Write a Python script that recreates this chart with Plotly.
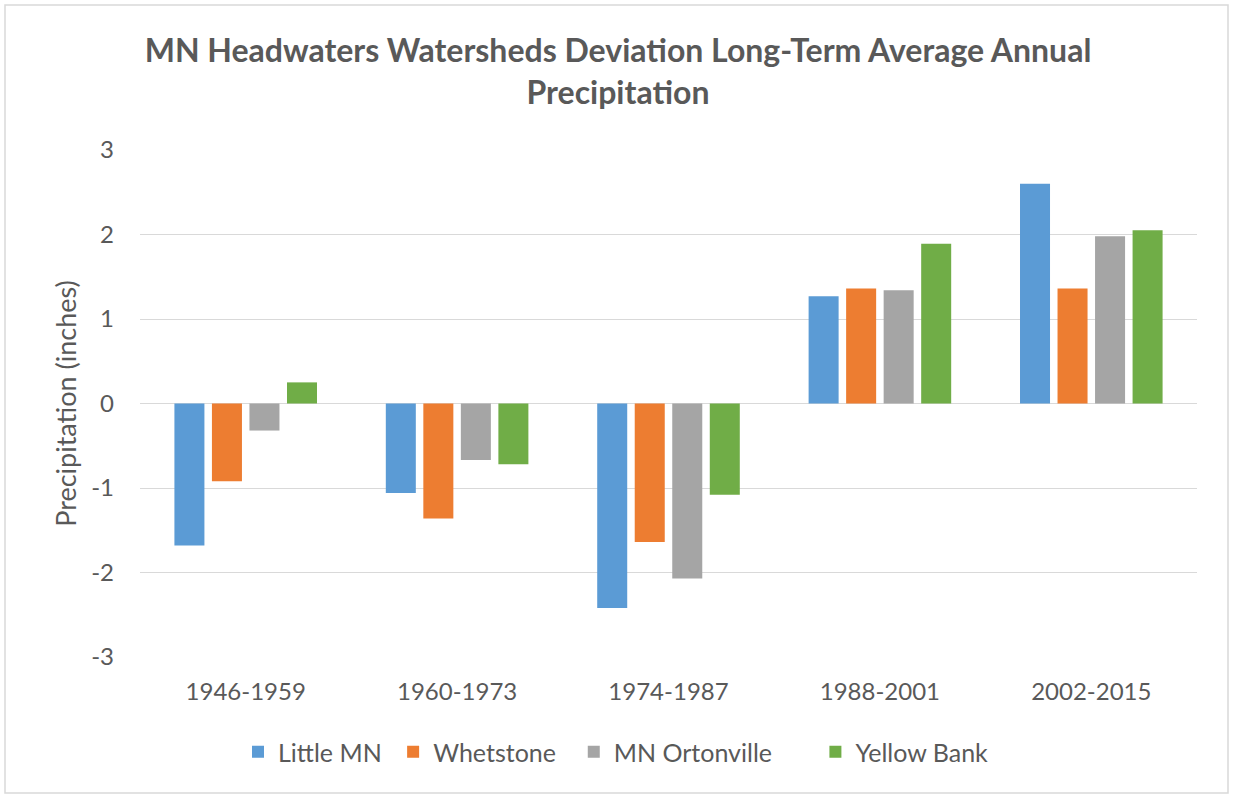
import plotly.graph_objects as go

categories = ["1946-1959", "1960-1973", "1974-1987", "1988-2001", "2002-2015"]
little_mn = [-1.68, -1.06, -2.42, 1.27, 2.60]
whetstone = [-0.92, -1.36, -1.64, 1.36, 1.36]
mn_ortonville = [-0.32, -0.67, -2.07, 1.34, 1.98]
yellow_bank = [0.25, -0.72, -1.08, 1.89, 2.05]
y_ticks = [-3, -2, -1, 0, 1, 2, 3]
y_tick_labels = ["-3", "-2", "-1", "0", "1", "2", "3"]

NB = "\u00a0"
series = [
    ("Little MN", little_mn, "#5B9BD5", 1),
    ("Whetstone", whetstone, "#ED7D31", 2),
    ("MN Ortonville", mn_ortonville, "#A5A5A5", 6),
    ("Yellow Bank", yellow_bank, "#70AD47", 0),
]

FONT = "Lato"
TXT = "#595959"

fig = go.Figure()
for name, vals, col, pad in series:
    fig.add_trace(go.Bar(name=name + NB * pad, x=categories, y=vals,
                         marker_color=col, marker_line_width=0))

W, H = 1233, 798
L, R, T, B = 140, 36, 150, 141
pw, ph = W - L - R, H - T - B

fig.update_layout(
    width=W, height=H,
    margin=dict(l=L, r=R, t=T, b=B),
    paper_bgcolor="white", plot_bgcolor="white",
    barmode="group", bargap=0.29, bargroupgap=0.2,
    font=dict(family=FONT, color=TXT, size=24),
    title=dict(text="<b>MN Headwaters Watersheds Deviation Long-Term Average Annual<br>Precipitation</b>",
               x=618 / W, xref="container", xanchor="center",
               y=1 - 62 / H, yref="container", yanchor="middle",
               font=dict(family=FONT, size=32, color=TXT)),
    showlegend=True,
    legend=dict(orientation="h", xref="container", yref="container",
                x=616 / W, xanchor="center", y=1 - 752 / H, yanchor="middle",
                font=dict(family=FONT, size=25, color=TXT),
                itemsizing="constant", traceorder="normal"),
    xaxis=dict(showgrid=False, showline=False, zeroline=False, ticks="",
               tickfont=dict(family=FONT, size=24, color=TXT),
               ticklabelstandoff=18),
    yaxis=dict(range=[-3, 3], tickmode="array", tickvals=y_ticks,
               ticktext=y_tick_labels, showgrid=True, gridcolor="#D9D9D9",
               gridwidth=1, zeroline=True, zerolinecolor="#D9D9D9",
               zerolinewidth=1, showline=False, ticks="",
               tickfont=dict(family=FONT, size=24, color=TXT),
               ticklabelstandoff=25,
               title=dict(text="Precipitation (inches)", standoff=6,
                          font=dict(family=FONT, size=27, color=TXT))),
    shapes=[dict(type="rect", xref="paper", yref="paper",
                 x0=(5 - L) / pw, x1=(1228 - L) / pw,
                 y0=(H - B - 793) / ph, y1=(H - B - 5) / ph,
                 line=dict(color="#D9D9D9", width=1.5), fillcolor="rgba(0,0,0,0)",
                 layer="below")],
)

fig.write_html("out.html", config={"displayModeBar": False},
               post_script="document.body.style.margin='0';document.body.style.padding='0';")
